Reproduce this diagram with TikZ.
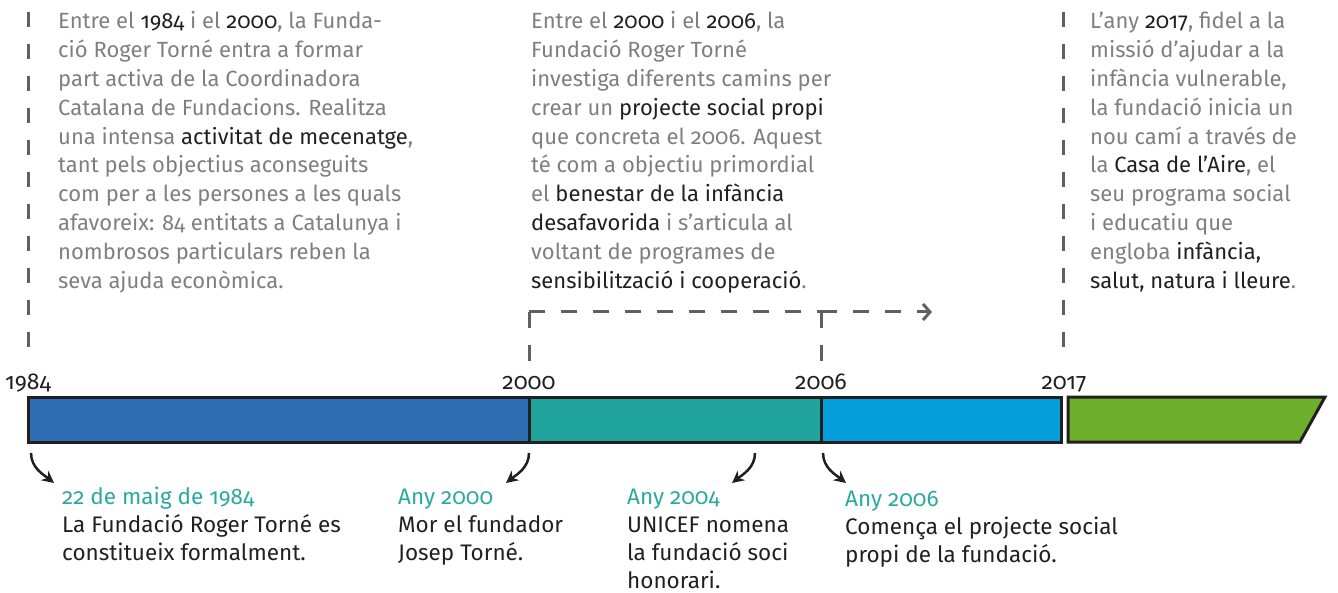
\documentclass[tikz,border=0pt]{standalone}
\usepackage{fontspec}
\setmainfont[Numbers=OldStyle]{Fira Sans}
\usepackage{tikz}
\usetikzlibrary{arrows.meta}

\definecolor{ink}{HTML}{231F20}
\definecolor{greytext}{HTML}{7F7F7F}
\definecolor{tealtext}{HTML}{2BA9A0}
\definecolor{barblue}{HTML}{2D6FB2}
\definecolor{barteal}{HTML}{20A39A}
\definecolor{barsky}{HTML}{049EDD}
\definecolor{bargreen}{HTML}{6DB02B}
\definecolor{dashgrey}{HTML}{606060}

\newcommand{\hl}[1]{\textcolor{ink}{#1}}
\newcommand{\evhead}[1]{\textcolor{tealtext}{#1}}

\begin{document}
\begin{tikzpicture}[x=1pt,y=-1pt,
    para/.style={anchor=base west,align=left,inner sep=0pt,text=greytext,font=\fontsize{22}{28.8}\selectfont},
    event/.style={anchor=base west,align=left,inner sep=0pt,text=ink,font=\fontsize{22.5}{28}\selectfont},
    year/.style={anchor=base,inner sep=0pt,text=ink,font=\fontsize{23}{24}\selectfont},
    barpart/.style={draw=ink,line width=3pt,line join=miter},
    yearline/.style={draw=dashgrey,line width=3pt,dash pattern=on 15pt off 17pt},
    flowline/.style={draw=dashgrey,line width=3pt,dash pattern=on 16pt off 16pt},
    eventarrow/.style={draw=ink,line width=2.5pt,-{Stealth[length=12pt,width=12pt]}}]
    \useasboundingbox (0,0) rectangle (1338,593);

    % the bar
    \draw[barpart,fill=barblue] (28,397) rectangle (529,442);
    \draw[barpart,fill=barteal] (529,397) rectangle (821,442);
    \draw[barpart,fill=barsky] (821,397) rectangle (1061,442);
    \draw[barpart,fill=bargreen] (1068,397) -- (1325,397) -- (1300,442) -- (1068,442) -- cycle;

    \node[year] (l1984) at (28,389) {1984};
    \node[year] (l2000) at (529,389) {2000};
    \node[year] (l2006) at (821,389) {2006};
    \node[year] (l2017) at (1064,389) {2017};

    % guide lines
    \coordinate (g1984a) at (28,12);
    \coordinate (g1984b) at (28,352);
    \coordinate (g2017a) at (1063,12);
    \coordinate (g2017b) at (1063,352);
    \draw[yearline] (g1984a) -- (g1984b);
    \draw[yearline] (g2017a) -- (g2017b);

    \coordinate (k2000) at (529,312);
    \coordinate (b2000) at (529,361);
    \coordinate (k2006) at (821,312);
    \coordinate (b2006) at (821,361);
    \coordinate (kend) at (932,312);
    \draw[flowline,dash pattern=on 16pt off 17pt] (k2000) -- (b2000);
    \draw[flowline,dash pattern=on 16pt off 17pt] (k2006) -- (b2006);
    \draw[flowline] (k2000) -- (k2006);
    \draw[flowline,-{Straight Barb[length=7pt,width=16pt]}] (k2006) -- (kend);

    % texts (base = last line)
    \node[para] (txt1984) at (58,288.2) {Entre el \hl{1984} i el \hl{2000}, la Funda-\\
        ció Roger Torné entra a formar\\
        part activa de la Coordinadora\\
        Catalana de Fundacions. Realitza\\
        una intensa \hl{activitat de mecenatge},\\
        tant pels objectius aconseguits\\
        com per a les persones a les quals\\
        afavoreix: 84 entitats a Catalunya i\\
        nombrosos particulars reben la\\
        seva ajuda econòmica.};
    \node[para] (txt2000) at (531,288.2) {Entre el \hl{2000} i el \hl{2006}, la\\
        Fundació Roger Torné\\
        investiga diferents camins per\\
        crear un \hl{projecte social propi}\\
        que concreta el 2006. Aquest\\
        té com a objectiu primordial\\
        el \hl{benestar de la infància}\\
        \hl{desafavorida} i s’articula al\\
        voltant de programes de\\
        \hl{sensibilització i cooperació}.};
    \node[para] (txt2017) at (1090,288.2) {L’any \hl{2017}, fidel a la\\
        missió d’ajudar a la\\
        infància vulnerable,\\
        la fundació inicia un\\
        nou camí a través de\\
        la \hl{Casa de l’Aire}, el\\
        seu programa social\\
        i educatiu que\\
        engloba \hl{infància,}\\
        \hl{salut, natura i lleure}.};

    % events
    \node[event] (ev1984) at (62,560) {\evhead{22 de maig de 1984}\\
        La Fundació Roger Torné es\\
        constitueix formalment.};
    \node[event] (ev2000) at (398,560) {\evhead{Any 2000}\\
        Mor el fundador\\
        Josep Torné.};
    \node[event] (ev2004) at (627,588) {\evhead{Any 2004}\\
        UNICEF nomena\\
        la fundació soci\\
        honorari.};
    \node[event] (ev2006) at (845,562) {\evhead{Any 2006}\\
        Comença el projecte social\\
        propi de la fundació.};

    \coordinate (a1s) at (31,453);
    \coordinate (a1e) at (54,483);
    \coordinate (a2s) at (529,453);
    \coordinate (a2e) at (506,483);
    \coordinate (a3s) at (755,453);
    \coordinate (a3e) at (732,483);
    \coordinate (a4s) at (823,453);
    \coordinate (a4e) at (846,483);
    \draw[eventarrow] (a1s) .. controls +(0,15) and +(-10,-8) .. (a1e);
    \draw[eventarrow] (a2s) .. controls +(0,15) and +(10,-8) .. (a2e);
    \draw[eventarrow] (a3s) .. controls +(0,15) and +(10,-8) .. (a3e);
    \draw[eventarrow] (a4s) .. controls +(0,15) and +(-10,-8) .. (a4e);
\end{tikzpicture}
\end{document}
